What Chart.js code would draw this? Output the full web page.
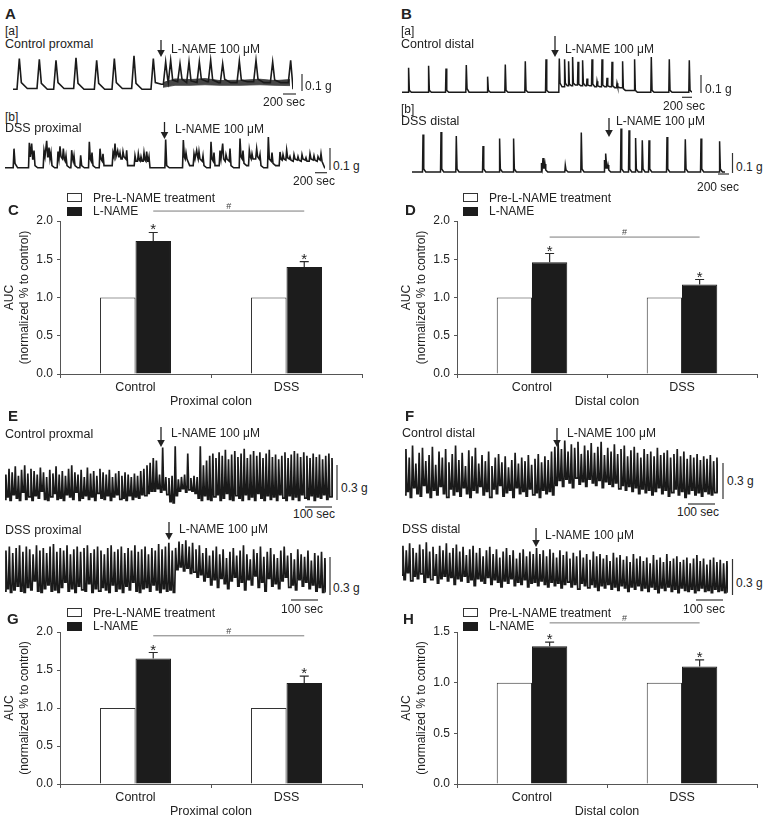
<!DOCTYPE html>
<html><head><meta charset="utf-8">
<script src="https://cdn.jsdelivr.net/npm/chart.js@4.4.1/dist/chart.umd.min.js"></script>
<style>
html,body{margin:0;padding:0;background:#fff;overflow:hidden;}
#fig{position:relative;width:765px;height:820px;overflow:hidden;font-family:"Liberation Sans",Arial,sans-serif;color:#222;}
#fig canvas{position:absolute;}
.t{position:absolute;white-space:nowrap;line-height:1;transform:translateY(-50%);color:#222;}
.lb{position:absolute;box-sizing:border-box;width:15px;height:9px;border:1px solid #333;}
#ov{position:absolute;left:0;top:0;pointer-events:none;}
</style></head><body><div id="fig"></div>
<script>
// ================= DATA =================
// Bar panels (AUC, normalized to control)
const barCategories = ['Control', 'DSS'];
const seriesNames = ['Pre-L-NAME treatment', 'L-NAME'];
const aucTicks2 = [0, 0.5, 1.0, 1.5, 2.0];
const aucTicks15 = [0, 0.5, 1.0, 1.5];
const cPre = [1.0, 1.0], cLname = [1.74, 1.40], cErr = [0.11, 0.07];
const dPre = [1.0, 1.0], dLname = [1.46, 1.17], dErr = [0.115, 0.065];
const gPre = [1.0, 1.0], gLname = [1.65, 1.33], gErr = [0.08, 0.09];
const hPre = [1.0, 1.0], hLname = [1.36, 1.16], hErr = [0.04, 0.065];
const cSig = 2.13, dSig = 1.79, gSig = 1.95, hSig = 1.59;

// A[a] Control proximal: time (s), tension (g)
const aCtlT     = [95,395,645,945,1255,1520,1815,2105,2290,2365,2505,2640,2795,2965,3145,3395,3645,3895,4165];
const aCtlTop   = [0.183,0.179,0.173,0.187,0.173,0.183,0.199,0.183,0.163,0.173,0.153,0.163,0.163,0.173,0.153,0.168,0.173,0.163,0.173];
const aCtlFoot  = [0.04,0.035,0.04,0.035,0.035,0.04,0.035,0.04,0.06,0.055,0.06,0.05,0.06,0.055,0.06,0.055,0.06,0.055,0.03];
const aCtlStart = [0,0.005,0,0.005,0,0,0.005,0,0.03,0.04,0.045,0.04,0.04,0.045,0.04,0.04,0.045,0.04,0.04];
const aCtlBandT  = [2250,2430,2655,2880,3105,3405,3705,3930,4155];
const aCtlBandHi = [0.04,0.062,0.058,0.064,0.052,0.054,0.06,0.052,0.058];
const aCtlBandLo = [0.012,0.024,0.024,0.027,0.024,0.024,0.027,0.024,0.022];
const aCtlEnd = [4200, 0.0];

// A[b] DSS proximal
const aDssT = [135,365,400,435,585,625,660,690,795,825,875,915,1000,1035,1135,1265,1305,1425,1470,1620,1650,1690,1725,1770,1825,1950,2000,2040,2085,2125,2160,2410,2675,2715,2835,2875,2910,2970,3090,3135,3225,3265,3315,3375,3525,3570,3665,3705,3775,3825,3950,4005,4125,4170,4225,4275,4335,4395,4455,4515,4575,4635,4695,4740];
const aDssTop = [0.087,0.114,0.110,0.078,0.078,0.123,0.092,0.069,0.074,0.098,0.087,0.055,0.080,0.055,0.057,0.118,0.069,0.087,0.064,0.069,0.110,0.078,0.069,0.074,0.080,0.055,0.064,0.051,0.069,0.074,0.051,0.129,0.126,0.069,0.064,0.080,0.074,0.055,0.118,0.069,0.078,0.110,0.060,0.087,0.133,0.078,0.080,0.064,0.087,0.060,0.141,0.069,0.072,0.060,0.080,0.051,0.060,0.051,0.060,0.046,0.064,0.055,0.051,0.064];
const aDssFoot = [0.02,0.05,0.04,0.01,0.05,0.05,0.04,0.01,0.04,0.05,0.04,0.01,0.04,0.01,0.01,0.04,0.01,0.04,0.01,0.05,0.05,0.05,0.04,0.05,0.01,0.03,0.035,0.03,0.035,0.03,0.0,0.01,0.05,0.04,0.04,0.05,0.04,0.01,0.04,0.01,0.04,0.04,0.04,0.01,0.05,0.02,0.05,0.04,0.05,0.01,0.04,0.02,0.04,0.04,0.045,0.035,0.04,0.035,0.04,0.03,0.04,0.035,0.04,0.03];
const aDssStart = [0,0,0.05,0.04,0,0.05,0.05,0.04,0,0.04,0.04,0.03,0,0.03,0,0,0.03,0,0.03,0.01,0.05,0.05,0.05,0.04,0.04,0.01,0.03,0.03,0.03,0.03,0.03,0,0,0.04,0.01,0.04,0.04,0.03,0,0.03,0.01,0.04,0.03,0.03,0,0.04,0.01,0.04,0.04,0.04,0,0.03,0.01,0.035,0.035,0.04,0.03,0.035,0.03,0.035,0.03,0.035,0.03,0.035];
const aDssEnd = [4800, 0.0];

// B[a] Control distal
const bCtlT     = [132,532,880,1286,1712,2066,2466,2880,3146,3252,3332,3412,3520,3612,3700,3800,3900,4000,4100,4200,4300,4412,4652,4986,5346,5746];
const bCtlTop   = [0.135,0.146,0.131,0.150,0.086,0.153,0.171,0.182,0.186,0.182,0.171,0.195,0.168,0.177,0.075,0.182,0.060,0.182,0.080,0.168,0.050,0.171,0.182,0.195,0.182,0.177];
const bCtlFoot  = [0.01,0.01,0.01,0.02,0.01,0.01,0.01,0.01,0.05,0.05,0.045,0.05,0.045,0.05,0.04,0.045,0.035,0.04,0.035,0.035,0.03,0.02,0.01,0.01,0.01,0.01];
const bCtlStart = [0,0,0,0,0,0,0,0,0,0.03,0.035,0.035,0.04,0.035,0.035,0.035,0.03,0.03,0.03,0.03,0.025,0.025,0.01,0,0,0];
const bCtlEnd = [5800, 0.0];

// B[b] DSS distal
const bDssT     = [220,580,886,1420,1752,2032,2590,2620,2660,3066,3386,3850,3880,3920,4180,4340,4472,4606,4740,5100,5466,5780,6152];
const bDssTop   = [0.187,0.200,0.180,0.130,0.167,0.167,0.045,0.070,0.040,0.034,0.197,0.060,0.092,0.035,0.217,0.209,0.170,0.159,0.159,0.175,0.164,0.167,0.154];
const bDssFoot  = [0.015,0.015,0.015,0.015,0.015,0.015,0.02,0.02,0.01,0.01,0.015,0.02,0.02,0.01,0.015,0.015,0.015,0.015,0.015,0.015,0.015,0.015,0.015];
const bDssStart = [0,0,0,0,0,0,0,0.02,0.02,0,0,0,0.02,0.02,0,0,0,0,0,0,0,0,0];
const bDssEnd = [6260, 0.0];

// E / F: per contraction cycle, peak and trough tension (g)
const eCtlPeak = [0.22,0.27,0.24,0.29,0.21,0.26,0.30,0.23,0.27,0.25,0.22,0.28,0.24,0.20,0.26,0.23,0.29,0.22,0.25,0.21,0.27,0.30,0.24,0.22,0.26,0.20,0.28,0.23,0.25,0.21,0.27,0.24,0.22,0.26,0.20,0.23,0.25,0.21,0.24,0.22,0.20,0.23,0.21,0.25,0.27,0.30,0.32,0.36,
  0.34,0.22,0.45,0.20,0.19,0.21,0.46,0.18,0.20,0.22,0.40,0.19,0.21,0.20,
  0.46,0.30,0.34,0.38,0.40,0.36,0.41,0.38,0.43,0.35,0.39,0.42,0.37,0.40,0.44,0.36,0.39,0.42,0.38,0.41,0.36,0.40,0.43,0.37,0.39,0.35,0.38,0.41,0.36,0.39,0.42,0.40,0.37,0.41,0.38,0.36,0.40,0.37,0.39,0.35,0.38,0.40,0.36];
const eCtlTrough = [0.01,0.03,0.00,0.05,0.02,0.00,0.07,0.01,0.03,0.00,0.04,0.02,0.08,0.01,0.00,0.03,0.06,0.01,0.02,0.00,0.05,0.03,0.01,0.07,0.00,0.02,0.04,0.01,0.03,0.00,0.06,0.02,0.01,0.04,0.00,0.03,0.05,0.01,0.02,0.00,0.04,0.01,0.03,0.02,0.05,0.04,0.06,0.08,
  0.08,0.10,0.07,0.09,0.05,-0.01,-0.02,0.04,0.08,0.10,0.07,0.09,0.08,0.06,
  0.02,0.00,0.04,0.01,0.00,0.03,0.05,0.00,0.02,0.06,0.01,0.00,0.04,0.02,0.00,0.05,0.01,0.03,0.00,0.06,0.02,0.00,0.04,0.01,0.03,0.00,0.05,0.02,0.00,0.04,0.01,0.03,0.00,0.05,0.02,0.01,0.04,0.00,0.03,0.02,0.05,0.01,0.03];
const eDssPeak = [0.33,0.36,0.31,0.35,0.37,0.32,0.36,0.34,0.30,0.37,0.33,0.35,0.31,0.36,0.38,0.32,0.35,0.33,0.37,0.30,0.34,0.36,0.32,0.35,0.37,0.31,0.34,0.36,0.33,0.30,0.35,0.37,0.32,0.34,0.36,0.31,0.35,0.33,0.37,0.32,0.34,0.36,0.30,0.35,0.33,0.38,0.34,0.36,0.39,0.33,0.35,
  0.40,0.38,0.41,0.36,0.39,0.34,0.37,0.31,0.35,0.29,0.33,0.36,0.30,0.34,0.27,0.32,0.35,0.29,0.33,0.37,0.30,0.26,0.34,0.31,0.36,0.28,0.32,0.35,0.30,0.27,0.33,0.36,0.29,0.31,0.26,0.34,0.30,0.28,0.33,0.25,0.31,0.29,0.32,0.27];
const eDssTrough = [0.01,0.03,0.00,0.02,0.05,0.01,0.00,0.04,0.02,0.09,0.01,0.00,0.03,0.06,0.01,0.02,0.00,0.04,0.08,0.01,0.03,0.00,0.05,0.02,0.01,0.07,0.00,0.03,0.01,0.04,0.02,0.00,0.06,0.01,0.03,0.00,0.05,0.02,0.08,0.01,0.00,0.03,0.04,0.01,0.06,0.02,0.00,0.03,0.01,0.02,0.00,
  0.18,0.20,0.17,0.19,0.15,0.16,0.12,0.14,0.09,0.12,0.06,0.10,0.04,0.11,0.07,0.03,0.09,0.12,0.05,0.08,0.02,0.10,0.06,0.13,0.04,0.08,0.01,0.11,0.05,0.07,0.03,0.09,0.12,0.04,0.06,0.02,0.10,0.05,0.08,0.03,0.06,0.01,0.04,0.00];
const fCtlPeak = [0.40,0.33,0.43,0.28,0.37,0.41,0.30,0.35,0.42,0.27,0.38,0.33,0.40,0.29,0.36,0.43,0.31,0.37,0.26,0.39,0.34,0.41,0.28,0.35,0.30,0.38,0.26,0.33,0.36,0.29,0.34,0.25,0.31,0.37,0.28,0.33,0.30,0.35,0.27,0.32,0.36,0.29,0.34,0.31,0.38,0.42,
  0.45,0.40,0.47,0.38,0.44,0.41,0.46,0.36,0.43,0.39,0.45,0.37,0.42,0.46,0.35,0.41,0.38,0.44,0.36,0.40,0.43,0.34,0.39,0.42,0.37,0.33,0.40,0.36,0.38,0.34,0.41,0.35,0.37,0.39,0.33,0.36,0.40,0.34,0.38,0.32,0.35,0.33,0.36,0.31,0.34,0.32,0.35,0.30,0.33];
const fCtlTrough = [0.02,0.05,0.00,0.08,0.03,0.01,0.10,0.04,0.00,0.06,0.02,0.09,0.03,0.00,0.07,0.02,0.05,0.01,0.08,0.03,0.00,0.06,0.04,0.09,0.02,0.05,0.00,0.07,0.03,0.10,0.01,0.04,0.06,0.00,0.08,0.03,0.05,0.01,0.07,0.02,0.04,0.00,0.06,0.03,0.05,0.02,
  0.10,0.14,0.09,0.15,0.12,0.08,0.16,0.11,0.13,0.09,0.15,0.12,0.10,0.14,0.08,0.13,0.11,0.09,0.12,0.07,0.10,0.06,0.09,0.05,0.08,0.03,0.07,0.04,0.06,0.02,0.05,0.08,0.03,0.06,0.01,0.04,0.07,0.02,0.05,0.00,0.03,0.06,0.02,0.04,0.01,0.05,0.03,0.02,0.04];
const fDssPeak = [0.40,0.36,0.42,0.38,0.34,0.41,0.37,0.43,0.35,0.39,0.33,0.40,0.36,0.42,0.34,0.38,0.41,0.35,0.39,0.32,0.37,0.40,0.34,0.38,0.31,0.36,0.39,0.33,0.37,0.30,0.35,0.38,0.32,0.36,0.29,0.34,0.37,0.31,0.35,0.33,
  0.38,0.33,0.36,0.31,0.37,0.34,0.30,0.36,0.32,0.35,0.29,0.34,0.31,0.36,0.30,0.33,0.28,0.35,0.31,0.33,0.29,0.32,0.27,0.34,0.30,0.32,0.28,0.31,0.26,0.33,0.29,0.31,0.27,0.30,0.25,0.32,0.28,0.30,0.26,0.33,0.27,0.29,0.31,0.26,0.28,0.30,0.25,0.29,0.32,0.27,0.29,0.24,0.28,0.30,0.26,0.28,0.25,0.27];
const fDssTrough = [0.15,0.11,0.17,0.10,0.14,0.12,0.16,0.09,0.13,0.11,0.15,0.08,0.12,0.14,0.10,0.13,0.07,0.12,0.10,0.14,0.09,0.11,0.06,0.12,0.10,0.08,0.13,0.07,0.11,0.09,0.05,0.10,0.08,0.12,0.06,0.09,0.07,0.11,0.05,0.08,
  0.09,0.06,0.10,0.07,0.05,0.09,0.06,0.08,0.04,0.07,0.09,0.05,0.07,0.03,0.08,0.06,0.04,0.07,0.05,0.02,0.06,0.04,0.07,0.03,0.05,0.02,0.06,0.04,0.01,0.05,0.03,0.06,0.02,0.04,0.01,0.05,0.03,0.00,0.04,0.02,0.05,0.01,0.03,0.00,0.04,0.02,0.01,0.03,0.00,0.02,0.04,0.01,0.02,0.00,0.03,0.01,0.02,0.00];

// ================= RENDER =================
Chart.defaults.font.family = '"Liberation Sans", Arial, sans-serif';
Chart.defaults.color = '#222';
const fig = document.getElementById('fig');
const INK = '#1a1a1a';

function addText(s, x, y, size, bold) {
  const d = document.createElement('div');
  d.className = 't'; d.textContent = s;
  d.style.left = x + 'px'; d.style.top = y + 'px'; d.style.fontSize = size + 'px';
  if (bold) d.style.fontWeight = 'bold';
  fig.appendChild(d);
}
function addCanvas(x, y, w, h) {
  const c = document.createElement('canvas');
  c.width = w; c.height = h;
  c.style.left = x + 'px'; c.style.top = y + 'px';
  c.style.width = w + 'px'; c.style.height = h + 'px';
  fig.appendChild(c);
  return c;
}

// ---- trace builders (rise, fall, tail are drawing widths in seconds) ----
function spikePoints(t, top, foot, start, rise, fall, tail, end) {
  const p = [{x: 0, y: start[0]}];
  for (let i = 0; i < t.length; i++) {
    p.push({x: t[i] - rise, y: start[i]}, {x: t[i], y: top[i]}, {x: t[i] + fall, y: foot[i]});
    const last = i === t.length - 1;
    const nextX = last ? end[0] : t[i + 1] - rise;
    const nextY = last ? end[1] : start[i + 1];
    const tx = Math.min(t[i] + fall + tail, nextX);
    if (tx > t[i] + fall) p.push({x: tx, y: nextY});
  }
  p.push({x: end[0], y: end[1]});
  return p;
}
function cyclePoints(peaks, troughs) {
  const n = Math.min(peaks.length, troughs.length), p = [];
  for (let i = 0; i < n; i++) {
    const nextTrough = i + 1 < n ? troughs[i + 1] : troughs[i];
    p.push({x: i, y: troughs[i]}, {x: i + 0.28, y: peaks[i]}, {x: i + 0.6, y: nextTrough});
  }
  return p;
}
function pairPoints(t, v) { return t.map((tt, i) => ({x: tt, y: v[i]})); }

function traceChart(box, xr, yr, datasets) {
  const pad = 3;
  const cv = addCanvas(box.x - pad, box.y - pad, box.w + 2 * pad, box.h + 2 * pad);
  return new Chart(cv, {
    type: 'line',
    data: {datasets},
    options: {
      responsive: false, animation: false, events: [],
      layout: {padding: pad},
      plugins: {legend: {display: false}, tooltip: {enabled: false}},
      elements: {point: {radius: 0}, line: {tension: 0, borderColor: INK, borderWidth: 1.2}},
      scales: {
        x: {type: 'linear', display: false, min: xr[0], max: xr[1]},
        y: {type: 'linear', display: false, min: yr[0], max: yr[1]}
      }
    }
  });
}
const lineDs = (pts, w) => ({data: pts, borderColor: INK, borderWidth: w || 1.2, pointRadius: 0, fill: false});

// A[a]
traceChart({x: 13, y: 54, w: 280, h: 37}, [0, 4200], [-0.01, 0.21], [
  lineDs(spikePoints(aCtlT, aCtlTop, aCtlFoot, aCtlStart, 35, 30, 90, aCtlEnd), 1.6),
  {data: pairPoints(aCtlBandT, aCtlBandHi), borderColor: '#333', borderWidth: 0.8, pointRadius: 0, fill: '+1', backgroundColor: '#464646'},
  {data: pairPoints(aCtlBandT, aCtlBandLo), borderColor: '#333', borderWidth: 0.8, pointRadius: 0, fill: false}
]);
// A[b]
traceChart({x: 5, y: 137, w: 320, h: 33}, [0, 4800], [-0.01, 0.14], [
  lineDs(spikePoints(aDssT, aDssTop, aDssFoot, aDssStart, 12, 15, 40, aDssEnd), 1.6)
]);
// B[a]
traceChart({x: 402, y: 56, w: 290, h: 38}, [0, 5800], [-0.01, 0.2], [
  lineDs(spikePoints(bCtlT, bCtlTop, bCtlFoot, bCtlStart, 10, 15, 40, bCtlEnd), 1.5)
]);
// B[b]
traceChart({x: 412, y: 126, w: 313, h: 48}, [0, 6260], [-0.01, 0.23], [
  lineDs(spikePoints(bDssT, bDssTop, bDssFoot, bDssStart, 10, 15, 40, bDssEnd), 1.5)
]);
// E / F
traceChart({x: 5, y: 444, w: 328, h: 60}, [0, eCtlPeak.length - 0.4], [-0.03, 0.48], [lineDs(cyclePoints(eCtlPeak, eCtlTrough), 1.7)]);
traceChart({x: 5, y: 539, w: 321, h: 56}, [0, eDssPeak.length - 0.4], [-0.02, 0.42], [lineDs(cyclePoints(eDssPeak, eDssTrough), 1.7)]);
traceChart({x: 405, y: 437, w: 313, h: 64}, [0, fCtlPeak.length - 0.4], [-0.03, 0.5], [lineDs(cyclePoints(fCtlPeak, fCtlTrough), 1.7)]);
traceChart({x: 402, y: 541, w: 326, h: 54}, [0, fDssPeak.length - 0.4], [-0.02, 0.44], [lineDs(cyclePoints(fDssPeak, fDssTrough), 1.7)]);

// ---- bar charts ----
const aucMarks = {
  id: 'aucMarks',
  afterDatasetsDraw(chart, args, opts) {
    const ctx = chart.ctx, y = chart.scales.y;
    const ds = chart.data.datasets[1], meta = chart.getDatasetMeta(1);
    ctx.save();
    ctx.strokeStyle = '#2a2a2a'; ctx.lineWidth = 1.2; ctx.fillStyle = '#222';
    meta.data.forEach((el, i) => {
      const top = y.getPixelForValue(ds.data[i] + opts.err[i]);
      const base = y.getPixelForValue(ds.data[i]);
      ctx.beginPath();
      ctx.moveTo(el.x, base); ctx.lineTo(el.x, top);
      ctx.moveTo(el.x - 4.5, top); ctx.lineTo(el.x + 4.5, top);
      ctx.stroke();
      ctx.font = '15px "Liberation Sans", Arial';
      ctx.textAlign = 'center'; ctx.textBaseline = 'alphabetic';
      ctx.fillText('*', el.x, top + 2);
    });
    const sy = y.getPixelForValue(opts.sig);
    ctx.strokeStyle = '#7a7a7a'; ctx.lineWidth = 1;
    ctx.beginPath(); ctx.moveTo(meta.data[0].x, sy); ctx.lineTo(meta.data[1].x, sy); ctx.stroke();
    ctx.fillStyle = '#444';
    ctx.font = '9px "Liberation Sans", Arial';
    ctx.textAlign = 'center'; ctx.textBaseline = 'alphabetic';
    ctx.fillText('#', (meta.data[0].x + meta.data[1].x) / 2, sy - 2);
    ctx.restore();
  }
};

function barChart(cv, pre, lname, err, sig, yTicks, xTitle, padTop, padRight, xHeight, titlePad) {
  return new Chart(cv, {
    type: 'bar',
    data: {
      labels: barCategories,
      datasets: [
        {label: seriesNames[0], data: pre, backgroundColor: '#ffffff', borderColor: '#333', borderWidth: 1, categoryPercentage: 0.47, barPercentage: 1},
        {label: seriesNames[1], data: lname, backgroundColor: '#1c1c1c', borderColor: '#1c1c1c', borderWidth: 1, categoryPercentage: 0.47, barPercentage: 1}
      ]
    },
    options: {
      responsive: false, animation: false, events: [],
      layout: {padding: {top: padTop, right: padRight, left: 0, bottom: 0}},
      plugins: {legend: {display: false}, tooltip: {enabled: false}, aucMarks: {err, sig}},
      scales: {
        x: {
          grid: {drawOnChartArea: false, drawTicks: true, tickLength: 4, color: '#555', offset: true},
          border: {color: '#555', width: 1},
          ticks: {font: {size: 12.5}, padding: 2, color: '#222'},
          title: {display: true, text: xTitle, font: {size: 12.5}, color: '#222', padding: {top: 0, bottom: titlePad}},
          afterFit(s) { s.height = xHeight; }
        },
        y: {
          min: 0, max: yTicks[yTicks.length - 1],
          afterBuildTicks(s) { s.ticks = yTicks.map(v => ({value: v})); },
          ticks: {callback: v => Number(v).toFixed(1), font: {size: 12}, padding: 4, color: '#222'},
          grid: {drawOnChartArea: false, drawTicks: true, tickLength: 3, color: '#555'},
          border: {color: '#555', width: 1},
          title: {display: true, text: ['AUC', '(normalized % to control)'], font: {size: 12, lineHeight: 1.25}, color: '#222', padding: {top: 2.5, bottom: 0}},
          afterFit(s) { s.width = 60; }
        }
      }
    },
    plugins: [aucMarks]
  });
}
barChart(addCanvas(0, 190, 380, 222), cPre, cLname, cErr, cSig, aucTicks2, 'Proximal colon', 31, 18, 38, 2.5);
barChart(addCanvas(397, 190, 368, 222), dPre, dLname, dErr, dSig, aucTicks2, 'Distal colon', 31, 8, 38, 2.5);
barChart(addCanvas(0, 605, 380, 215), gPre, gLname, gErr, gSig, aucTicks2, 'Proximal colon', 27, 18, 36, 1);
barChart(addCanvas(397, 605, 368, 215), hPre, hLname, hErr, hSig, aucTicks15, 'Distal colon', 27, 8, 36, 1);

// ---- legends ----
function legend(x, y) {
  const w = document.createElement('div'); w.className = 'lb';
  w.style.left = x + 'px'; w.style.top = y + 'px'; w.style.background = '#fff';
  fig.appendChild(w);
  const b = document.createElement('div'); b.className = 'lb';
  b.style.left = x + 'px'; b.style.top = (y + 13.5) + 'px'; b.style.background = '#1c1c1c'; b.style.borderColor = '#1c1c1c';
  fig.appendChild(b);
  addText(seriesNames[0], x + 26, y + 4.5, 12);
  addText(seriesNames[1], x + 26, y + 18, 12);
}
legend(67, 193); legend(463, 193); legend(67, 608); legend(463, 608);

// ---- text labels ----
const LN = 'L-NAME 100 \u03bcM';
[
  ['A', 5, 13, 15, true], ['[a]', 5, 30.5, 12], ['Control proxmal', 5, 43.8, 12.5], [LN, 171, 48.8, 12],
  ['0.1 g', 305, 85.5, 12], ['200 sec', 263, 101.5, 12], ['[b]', 5, 116.5, 12], ['DSS proximal', 5, 128.3, 12.5],
  [LN, 175, 128.5, 12], ['0.1 g', 333, 165.5, 12], ['200 sec', 293, 180.7, 12],
  ['B', 401, 13, 15, true], ['[a]', 401, 30.8, 12], ['Control distal', 401, 43.8, 12.5], [LN, 565, 48.8, 12],
  ['0.1 g', 705, 89, 12], ['200 sec', 663, 106, 12], ['[b]', 401, 109.3, 12], ['DSS distal', 401, 120.8, 12.5],
  [LN, 616, 121, 12], ['0.1 g', 736, 166.5, 12], ['200 sec', 697, 186.7, 12],
  ['C', 8, 209, 15, true], ['D', 405, 209, 15, true],
  ['E', 8, 414.5, 15, true], ['Control proxmal', 5, 434, 12.5], [LN, 171, 433, 12], ['0.3 g', 341, 487.5, 12],
  ['100 sec', 293, 514, 12], ['DSS proximal', 5, 530, 12.5], [LN, 179, 529, 12], ['0.3 g', 333, 588, 12], ['100 sec', 281, 608.8, 12],
  ['F', 405, 414.5, 15, true], ['Control distal', 402, 433.3, 12.5], [LN, 567, 433, 12], ['0.3 g', 727, 481, 12],
  ['100 sec', 677, 511.7, 12], ['DSS distal', 402, 529, 12.5], [LN, 545, 535, 12], ['0.3 g', 736, 582.5, 12], ['100 sec', 683, 608.8, 12],
  ['G', 7, 617.5, 15, true], ['H', 403, 617.5, 15, true]
].forEach(a => addText(a[0], a[1], a[2], a[3], a[4]));

// ---- arrows & scale bars (annotations) ----
const arrows = [[161,40,57],[164.5,122,139],[555,36,57],[609,118,137],[161,427,447],[169,522,540],[557,428,447],[536,528,547]];
const vBars = [[302,74,91],[330,148,170],[701,75,93],[732.5,153,173],[337,465,500],[330,557,595],[723,463,499],[732.5,559,595]];
const hBars = [[283,296,94],[315,327,172.7],[682,692,97.3],[718,729,174],[305,332,507],[291,318,600],[688,715,504],[696,723,600]];
let svg = '<svg id="ov" width="765" height="820" xmlns="http://www.w3.org/2000/svg">';
arrows.forEach(([x, y1, y2]) => {
  svg += `<line x1="${x}" y1="${y1}" x2="${x}" y2="${y2 - 5}" stroke="#222" stroke-width="1.3"/>`;
  svg += `<polygon points="${x - 3.8},${y2 - 7} ${x + 3.8},${y2 - 7} ${x},${y2}" fill="#222"/>`;
});
vBars.forEach(([x, y1, y2]) => { svg += `<line x1="${x}" y1="${y1}" x2="${x}" y2="${y2}" stroke="#333" stroke-width="1.2"/>`; });
hBars.forEach(([x1, x2, y]) => { svg += `<line x1="${x1}" y1="${y}" x2="${x2}" y2="${y}" stroke="#333" stroke-width="1.2"/>`; });
svg += '</svg>';
fig.insertAdjacentHTML('beforeend', svg);
</script>
</body></html>
